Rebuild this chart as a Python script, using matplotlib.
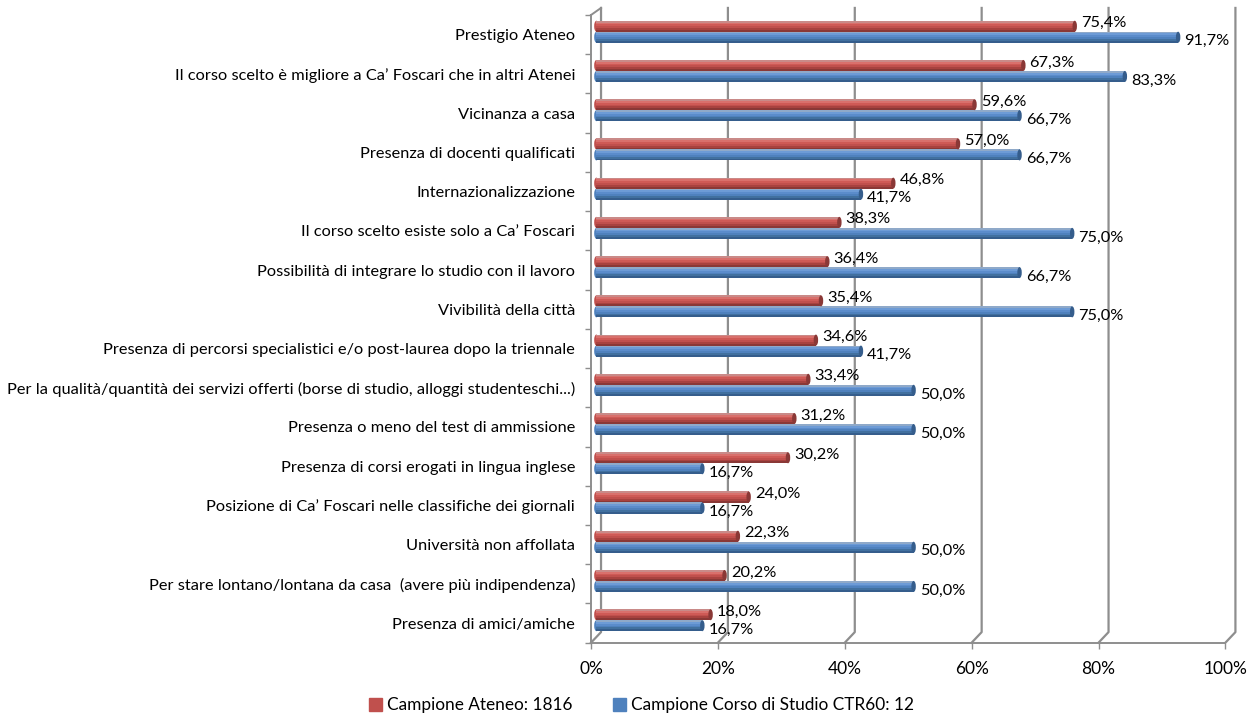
import matplotlib
matplotlib.use("Agg")
import matplotlib.pyplot as plt
from matplotlib.patches import Ellipse, Patch

plt.rcParams['font.family'] = ['Lato', 'DejaVu Sans']

categories = [
    "Prestigio Ateneo",
    "Il corso scelto è migliore a Ca’ Foscari che in altri Atenei",
    "Vicinanza a casa",
    "Presenza di docenti qualificati",
    "Internazionalizzazione",
    "Il corso scelto esiste solo a Ca’ Foscari",
    "Possibilità di integrare lo studio con il lavoro",
    "Vivibilità della città",
    "Presenza di percorsi specialistici e/o post-laurea dopo la triennale",
    "Per la qualità/quantità dei servizi offerti (borse di studio, alloggi studenteschi...)",
    "Presenza o meno del test di ammissione",
    "Presenza di corsi erogati in lingua inglese",
    "Posizione di Ca’ Foscari nelle classifiche dei giornali",
    "Università non affollata",
    "Per stare lontano/lontana da casa  (avere più indipendenza)",
    "Presenza di amici/amiche",
]
ateneo = [75.4, 67.3, 59.6, 57.0, 46.8, 38.3, 36.4, 35.4, 34.6, 33.4, 31.2, 30.2, 24.0, 22.3, 20.2, 18.0]
corso = [91.7, 83.3, 66.7, 66.7, 41.7, 75.0, 66.7, 75.0, 41.7, 50.0, 50.0, 16.7, 16.7, 50.0, 50.0, 16.7]
x_ticks = [0, 20, 40, 60, 80, 100]
legend_labels = ["Campione Ateneo: 1816", "Campione Corso di Studio CTR60: 12"]

RED_SHADES = ["#c98a88", "#d9706c", "#cf5a56", "#c0504d", "#a8423f", "#8a3836"]
BLUE_SHADES = ["#8fa9c9", "#6d9bd6", "#5b8ccb", "#4f81bd", "#41709f", "#355d8c"]
GRID = "#8e8e8e"

W, H = 1254, 720
fig = plt.figure(figsize=(W / 100, H / 100), dpi=100)
ax = fig.add_axes([591 / W, 1 - 642.7 / H, (1225.4 - 591) / W, (642.7 - 15) / H])
ax.set_xlim(0, 100)
ax.set_ylim(15.5, -0.5)

# back wall and floor of the fake 3d chart
dx, dy_top, dy_bottom = 1.58, 0.18, 0.27
for t in x_ticks:
    ax.plot([t, t + dx, t + dx], [15.5, 15.5 - dy_bottom, -0.5 - dy_top],
            color=GRID, lw=1.6, clip_on=False, zorder=1)
ax.plot([0, dx], [-0.5, -0.5 - dy_top], color=GRID, lw=1.4, clip_on=False, zorder=1)

bar_dx, bar_dy = 0.85, -0.074
bar_h, gap = 0.28, 0.14


def draw_bar(y, value, shades):
    n = len(shades)
    strip = bar_h / n
    for i, c in enumerate(shades):
        ax.barh(y - bar_h / 2 + strip * (i + 0.5), value, height=strip * 1.05,
                left=bar_dx, color=c, lw=0, zorder=3)
    ax.add_patch(Ellipse((bar_dx + value, y), 0.7, bar_h, color=shades[-1], lw=0, zorder=4))
    ax.add_patch(Ellipse((bar_dx, y), 0.7, bar_h, color=shades[3], lw=0, zorder=2.5))


for i, (a, c) in enumerate(zip(ateneo, corso)):
    y_red = i + bar_dy - gap
    y_blue = i + bar_dy + gap
    draw_bar(y_red, a, RED_SHADES)
    draw_bar(y_blue, c, BLUE_SHADES)
    ax.annotate(f"{a:.1f}%".replace(".", ","), (a + bar_dx, y_red), xytext=(4.5, 2.2),
                textcoords="offset points", va="center", ha="left", fontsize=11.8, zorder=6)
    ax.annotate(f"{c:.1f}%".replace(".", ","), (c + bar_dx, y_blue), xytext=(4.5, -3),
                textcoords="offset points", va="center", ha="left", fontsize=11.8, zorder=6)

for s in ["top", "right"]:
    ax.spines[s].set_visible(False)
for s in ["left", "bottom"]:
    ax.spines[s].set_color(GRID)
    ax.spines[s].set_linewidth(1.4)

ax.set_xticks(x_ticks)
ax.set_xticklabels([f"{t}%" for t in x_ticks], fontsize=12.5)
ax.tick_params(axis="x", length=4, color=GRID, width=1, pad=9)
ax.set_yticks(range(len(categories)))
ax.set_yticklabels(categories, fontsize=11.75)
ax.tick_params(axis="y", length=0, pad=11.5)
ax.set_yticks([i - 0.5 for i in range(len(categories) + 1)], minor=True)
ax.tick_params(axis="y", which="minor", length=4, color=GRID, width=1)

handles = [Patch(color=RED_SHADES[3]), Patch(color=BLUE_SHADES[3])]
fig.legend(handles, legend_labels, loc="lower left", bbox_to_anchor=(362 / W, 0.0), ncol=2,
           frameon=False, fontsize=12.4, handlelength=0.75, handleheight=0.8,
           handletextpad=0.3, columnspacing=2.35, borderaxespad=0)

fig.savefig("out.png", dpi=100)
